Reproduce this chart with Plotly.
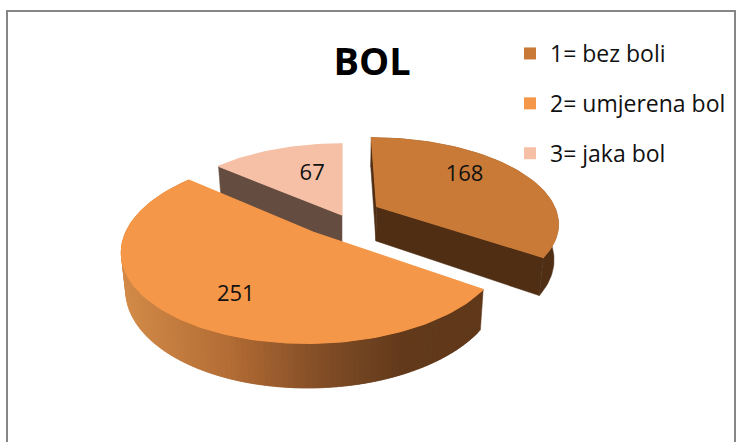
import math
import plotly.graph_objects as go

categories = ["1= bez boli", "2= umjerena bol", "3= jaka bol"]
values = [168, 251, 67]
title_text = "BOL"
colors = ["#c97a37", "#f59748", "#f6c0a6"]
side_colors = ["#4f2e14", None, "#654c40"]
explode = [0.22, 0.25, 0.0]
label_radius = [0.68, 0.71, 0.56]
label_turn = [-9.0, -8.0, 6.0]

W, H = 736, 442
OX, OY = 342.0, 215.0      # projected pie centre
FX, FY = 181.0, 84.0       # horizontal / vertical scale
K = 0.18                   # perspective strength
THICK = 35.0
GRAD = [(125, (210, 138, 72)), (230, (178, 108, 52)), (310, (135, 80, 40)),
        (400, (98, 58, 27)), (478, (96, 56, 26))]


def proj(x, y, bottom=False):
    s = 1.0 / (1.0 - K * y)
    sx = FX * x * s
    sy = FY * y * s
    if bottom:
        sx *= 0.98
        sy += THICK * s
    return OX + sx, OY + sy


def grad(x):
    c = GRAD[0][1] if x <= GRAD[0][0] else GRAD[-1][1]
    for (x0, c0), (x1, c1) in zip(GRAD, GRAD[1:]):
        if x0 <= x <= x1:
            t = (x - x0) / (x1 - x0)
            c = tuple(a + (b - a) * t for a, b in zip(c0, c1))
    return "rgb(%d,%d,%d)" % tuple(round(v) for v in c)


fig = go.Figure()


def poly(pts, color, lw=0.5):
    fig.add_trace(go.Scatter(
        x=[p[0] for p in pts] + [pts[0][0]],
        y=[p[1] for p in pts] + [pts[0][1]],
        mode="lines", fill="toself", fillcolor=color,
        line=dict(width=lw, color=color), hoverinfo="skip", showlegend=False))


total = sum(values)
spans = []
a = 0.0
for v in values:
    spans.append((a, a + v / total * 360.0))
    a += v / total * 360.0


def geom(i):
    a0, a1 = spans[i]
    mid = math.radians((a0 + a1) / 2)
    cx, cy = explode[i] * math.sin(mid), -explode[i] * math.cos(mid)
    n = max(8, int((a1 - a0) / 1.5))
    ang = [math.radians(a0 + (a1 - a0) * k / n) for k in range(n + 1)]
    pts = [(cx + math.sin(t), cy - math.cos(t)) for t in ang]
    return (cx, cy), pts


for i in (2, 0, 1):
    c, pts = geom(i)
    if i == 2:
        poly([proj(*pts[0]), proj(*c), proj(*c, True), proj(*pts[0], True)], side_colors[2])
    if i == 0:
        poly([proj(*c), proj(*pts[0]), proj(*pts[0], True), proj(*c, True)], side_colors[0])
        poly([proj(*c), proj(*pts[-1]), proj(*pts[-1], True), proj(*c, True)], side_colors[0])
        poly([proj(*p) for p in pts] + [proj(*p, True) for p in reversed(pts)], side_colors[0])
    if i == 1:
        for k in range(len(pts) - 1):
            p, q = pts[k], pts[min(k + 2, len(pts) - 1)]
            poly([proj(*p), proj(*q), proj(*q, True), proj(*p, True)],
                 grad((proj(*pts[k])[0] + proj(*pts[k + 1])[0]) / 2))
    poly([proj(*c)] + [proj(*p) for p in pts], colors[i], lw=1.2)

# data labels
lx, ly = [], []
for i in range(3):
    c, _ = geom(i)
    t = math.radians(sum(spans[i]) / 2 + label_turn[i])
    sx, sy = proj(c[0] + label_radius[i] * math.sin(t), c[1] - label_radius[i] * math.cos(t))
    lx.append(sx)
    ly.append(sy)
fig.add_trace(go.Scatter(x=lx, y=ly, mode="text", text=[str(v) for v in values],
                         textposition="middle center",
                         textfont=dict(family="Open Sans", size=22, color="#111111"),
                         hoverinfo="skip", showlegend=False))

# legend
for i in range(3):
    fig.add_trace(go.Scatter(x=[None], y=[None], mode="markers", name=categories[i],
                             legendgroup=categories[i],
                             marker=dict(symbol="square", size=17, color=colors[i])))

fig.add_shape(type="rect", xref="x", yref="y", x0=7, y0=11, x1=735, y1=470,
              line=dict(color="#868686", width=2), fillcolor="rgba(0,0,0,0)", layer="below")

fig.update_layout(
    width=W, height=H, margin=dict(l=0, r=0, t=0, b=0),
    paper_bgcolor="white", plot_bgcolor="white",
    title=dict(text="<b>%s</b>" % title_text, x=372 / W, xanchor="center", y=1 - 62 / H, yanchor="middle",
               font=dict(family="Open Sans", size=38, color="black")),
    xaxis=dict(range=[0, W], visible=False, fixedrange=True),
    yaxis=dict(range=[H, 0], visible=False, fixedrange=True),
    legend=dict(x=510 / W, y=1 - 32 / H, xanchor="left", yanchor="top", bgcolor="rgba(0,0,0,0)",
                font=dict(family="Open Sans", size=23, color="#111111"),
                tracegroupgap=17, itemsizing="constant"),
)
fig.write_html("out.html", config={"displayModeBar": False},
               post_script="document.body.style.margin='0';document.documentElement.style.overflow='hidden';")
